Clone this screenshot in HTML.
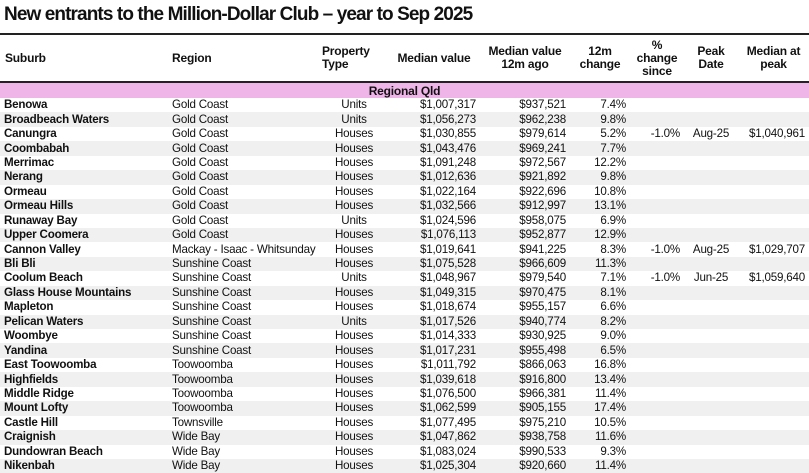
<!DOCTYPE html>
<html><head><meta charset="utf-8"><style>
body{margin:0;width:809px;height:471px;overflow:hidden;background:#fff;font-family:"Liberation Sans",Arial,sans-serif;color:#111}
h1{margin:0;position:absolute;left:4px;top:4px;font-size:19px;font-weight:bold;letter-spacing:-0.9px;white-space:nowrap}
table{position:absolute;left:0;top:33px;width:809px;border-collapse:collapse;table-layout:fixed;font-size:11.6px;letter-spacing:-0.2px}
th{font-weight:bold;font-size:12px;line-height:13px;height:46px;text-align:center;vertical-align:middle;padding:0 2px;border-top:2px solid #222;border-bottom:2px solid #222}
td{height:14.45px;padding:0 4px;white-space:nowrap;line-height:14px}
td:nth-child(1){font-weight:bold;text-align:left}
td:nth-child(2){text-align:left}
td:nth-child(3){text-align:center}
td:nth-child(4),td:nth-child(5),td:nth-child(6),td:nth-child(7),td:nth-child(9){text-align:right}
td:nth-child(8){text-align:center}
tr.band td{background:#efb5e8;font-weight:bold;text-align:center;font-size:12px;height:15px}
tbody tr:nth-child(odd):not(.band){background:#f0f0f0}
</style></head><body>
<h1>New entrants to the Million-Dollar Club – year to Sep 2025</h1>
<table>
<colgroup><col style="width:168px"><col style="width:152px"><col style="width:68px"><col style="width:92px"><col style="width:90px"><col style="width:60px"><col style="width:54px"><col style="width:54px"><col style="width:71px"></colgroup>
<thead><tr><th style="text-align:left;padding-left:5px">Suburb</th><th style="text-align:left;padding-left:4px">Region</th><th style="text-align:left">Property Type</th><th>Median value</th><th>Median value 12m ago</th><th>12m change</th><th>% change since</th><th>Peak Date</th><th>Median at peak</th></tr></thead>
<tbody>
<tr class="band"><td colspan="9">Regional Qld</td></tr>
<tr><td>Benowa</td><td>Gold Coast</td><td>Units</td><td>$1,007,317</td><td>$937,521</td><td>7.4%</td><td></td><td></td><td></td></tr>
<tr><td>Broadbeach Waters</td><td>Gold Coast</td><td>Units</td><td>$1,056,273</td><td>$962,238</td><td>9.8%</td><td></td><td></td><td></td></tr>
<tr><td>Canungra</td><td>Gold Coast</td><td>Houses</td><td>$1,030,855</td><td>$979,614</td><td>5.2%</td><td>-1.0%</td><td>Aug-25</td><td>$1,040,961</td></tr>
<tr><td>Coombabah</td><td>Gold Coast</td><td>Houses</td><td>$1,043,476</td><td>$969,241</td><td>7.7%</td><td></td><td></td><td></td></tr>
<tr><td>Merrimac</td><td>Gold Coast</td><td>Houses</td><td>$1,091,248</td><td>$972,567</td><td>12.2%</td><td></td><td></td><td></td></tr>
<tr><td>Nerang</td><td>Gold Coast</td><td>Houses</td><td>$1,012,636</td><td>$921,892</td><td>9.8%</td><td></td><td></td><td></td></tr>
<tr><td>Ormeau</td><td>Gold Coast</td><td>Houses</td><td>$1,022,164</td><td>$922,696</td><td>10.8%</td><td></td><td></td><td></td></tr>
<tr><td>Ormeau Hills</td><td>Gold Coast</td><td>Houses</td><td>$1,032,566</td><td>$912,997</td><td>13.1%</td><td></td><td></td><td></td></tr>
<tr><td>Runaway Bay</td><td>Gold Coast</td><td>Units</td><td>$1,024,596</td><td>$958,075</td><td>6.9%</td><td></td><td></td><td></td></tr>
<tr><td>Upper Coomera</td><td>Gold Coast</td><td>Houses</td><td>$1,076,113</td><td>$952,877</td><td>12.9%</td><td></td><td></td><td></td></tr>
<tr><td>Cannon Valley</td><td>Mackay - Isaac - Whitsunday</td><td>Houses</td><td>$1,019,641</td><td>$941,225</td><td>8.3%</td><td>-1.0%</td><td>Aug-25</td><td>$1,029,707</td></tr>
<tr><td>Bli Bli</td><td>Sunshine Coast</td><td>Houses</td><td>$1,075,528</td><td>$966,609</td><td>11.3%</td><td></td><td></td><td></td></tr>
<tr><td>Coolum Beach</td><td>Sunshine Coast</td><td>Units</td><td>$1,048,967</td><td>$979,540</td><td>7.1%</td><td>-1.0%</td><td>Jun-25</td><td>$1,059,640</td></tr>
<tr><td>Glass House Mountains</td><td>Sunshine Coast</td><td>Houses</td><td>$1,049,315</td><td>$970,475</td><td>8.1%</td><td></td><td></td><td></td></tr>
<tr><td>Mapleton</td><td>Sunshine Coast</td><td>Houses</td><td>$1,018,674</td><td>$955,157</td><td>6.6%</td><td></td><td></td><td></td></tr>
<tr><td>Pelican Waters</td><td>Sunshine Coast</td><td>Units</td><td>$1,017,526</td><td>$940,774</td><td>8.2%</td><td></td><td></td><td></td></tr>
<tr><td>Woombye</td><td>Sunshine Coast</td><td>Houses</td><td>$1,014,333</td><td>$930,925</td><td>9.0%</td><td></td><td></td><td></td></tr>
<tr><td>Yandina</td><td>Sunshine Coast</td><td>Houses</td><td>$1,017,231</td><td>$955,498</td><td>6.5%</td><td></td><td></td><td></td></tr>
<tr><td>East Toowoomba</td><td>Toowoomba</td><td>Houses</td><td>$1,011,792</td><td>$866,063</td><td>16.8%</td><td></td><td></td><td></td></tr>
<tr><td>Highfields</td><td>Toowoomba</td><td>Houses</td><td>$1,039,618</td><td>$916,800</td><td>13.4%</td><td></td><td></td><td></td></tr>
<tr><td>Middle Ridge</td><td>Toowoomba</td><td>Houses</td><td>$1,076,500</td><td>$966,381</td><td>11.4%</td><td></td><td></td><td></td></tr>
<tr><td>Mount Lofty</td><td>Toowoomba</td><td>Houses</td><td>$1,062,599</td><td>$905,155</td><td>17.4%</td><td></td><td></td><td></td></tr>
<tr><td>Castle Hill</td><td>Townsville</td><td>Houses</td><td>$1,077,495</td><td>$975,210</td><td>10.5%</td><td></td><td></td><td></td></tr>
<tr><td>Craignish</td><td>Wide Bay</td><td>Houses</td><td>$1,047,862</td><td>$938,758</td><td>11.6%</td><td></td><td></td><td></td></tr>
<tr><td>Dundowran Beach</td><td>Wide Bay</td><td>Houses</td><td>$1,083,024</td><td>$990,533</td><td>9.3%</td><td></td><td></td><td></td></tr>
<tr><td>Nikenbah</td><td>Wide Bay</td><td>Houses</td><td>$1,025,304</td><td>$920,660</td><td>11.4%</td><td></td><td></td><td></td></tr>
</tbody></table>
</body></html>
